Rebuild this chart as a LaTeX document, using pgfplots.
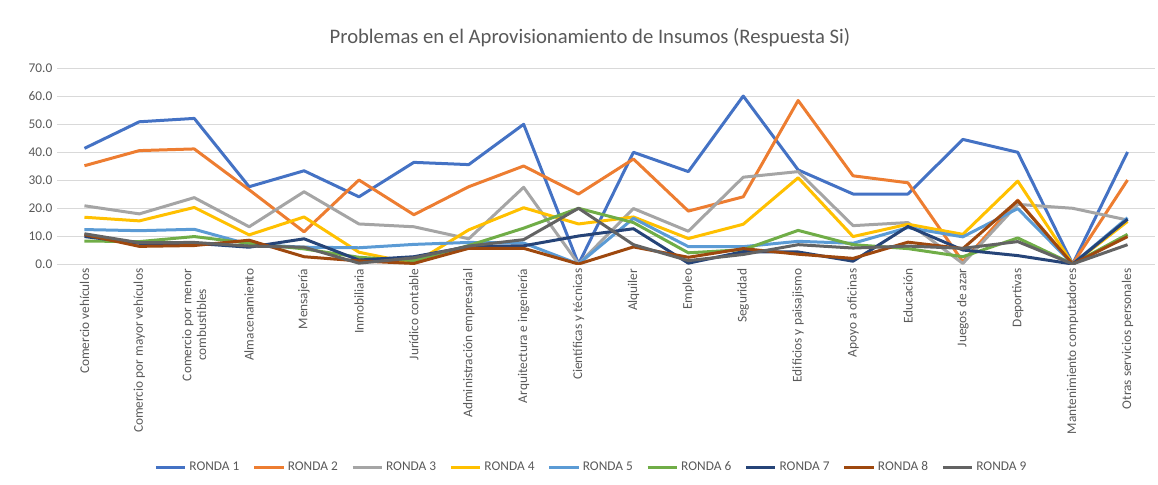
\documentclass[border=0pt]{standalone}
\usepackage{pgfplots}
\pgfplotsset{compat=1.18}
\usepackage{fontspec}
\setmainfont{Carlito}
\definecolor{r1}{HTML}{4472C4}
\definecolor{r2}{HTML}{ED7D31}
\definecolor{r3}{HTML}{A5A5A5}
\definecolor{r4}{HTML}{FFC000}
\definecolor{r5}{HTML}{5B9BD5}
\definecolor{r6}{HTML}{70AD47}
\definecolor{r7}{HTML}{264478}
\definecolor{r8}{HTML}{9E480E}
\definecolor{r9}{HTML}{636363}
\definecolor{txt}{HTML}{595959}
\definecolor{grd}{HTML}{D9D9D9}
\begin{document}
\begin{tikzpicture}
\path[use as bounding box] (0pt,0pt) rectangle (868.5pt,-363.75pt);
\node[font=\fontsize{15.5}{18}\selectfont, text=txt] at (442.5pt,-28.5pt) {Problemas en el Aprovisionamiento de Insumos (Respuesta Si)};
\begin{axis}[
  at={(42.75pt,-198pt)}, anchor=south west,
  scale only axis, width=823.5pt, height=147pt,
  xmin=0.5, xmax=20.5, ymin=0, ymax=70,
  ytick={0,10,...,70},
  xtick={1,...,20},
  xticklabels={Comercio vehículos,Comercio  por mayor vehículos,{Comercio  por menor\\combustibles},Almacenamiento,Mensajería,Inmobiliaria,Jurídico contable,Administración empresarial,Arquitectura e ingeniería,Científicas y técnicas,Alquiler,Empleo,Seguridad,Edificios y paisajismo,Apoyo a oficinas,Educación,Juegos de azar,Deportivas,Mantenimiento computadores,Otras servicios personales},
  x tick label style={rotate=90, anchor=east, align=center, font=\fontsize{10}{11}\selectfont, text=txt},
  y tick label style={font=\fontsize{10}{12}\selectfont, text=txt, /pgf/number format/fixed, /pgf/number format/fixed zerofill, /pgf/number format/precision=1},
  /pgf/number format/assume math mode=true,
  ymajorgrids, major grid style={grd, line width=0.75pt},
  axis line style={draw=none},
  major tick length=0pt,
  no markers,
  every axis plot/.append style={line width=2.25pt, line join=round},
  legend columns=9,
  legend style={draw=none, fill=none, font=\fontsize{10}{12}\selectfont, text=txt, at={(0.487,-1.036)}, anchor=center, /tikz/every even column/.append style={column sep=8pt}},
  legend image code/.code={\draw[#1, line width=2.25pt] (0pt,0pt) -- (22pt,0pt);},
]
\addplot[r1] coordinates {(1,41.3)(2,50.8)(3,52.0)(4,27.6)(5,33.3)(6,24.0)(7,36.3)(8,35.5)(9,49.9)(10,0)(11,39.9)(12,33.0)(13,60.0)(14,33.6)(15,25.0)(16,25.0)(17,44.5)(18,39.9)(19,0)(20,40.0)};
\addplot[r2] coordinates {(1,35.1)(2,40.5)(3,41.1)(4,26.5)(5,11.5)(6,30.0)(7,17.6)(8,27.6)(9,35.0)(10,25.0)(11,37.5)(12,18.9)(13,24.0)(14,58.4)(15,31.5)(16,29.0)(17,0.8)(18,22.8)(19,0)(20,30.0)};
\addplot[r3] coordinates {(1,20.8)(2,17.9)(3,23.7)(4,13.3)(5,25.8)(6,14.3)(7,13.3)(8,9.0)(9,27.4)(10,0)(11,19.8)(12,11.7)(13,31.0)(14,33.0)(15,13.7)(16,14.8)(17,0.2)(18,21.3)(19,19.9)(20,15.7)};
\addplot[r4] coordinates {(1,16.7)(2,15.4)(3,20.2)(4,10.4)(5,16.8)(6,4.2)(7,0.2)(8,12.2)(9,20.1)(10,14.3)(11,16.8)(12,9.1)(13,14.2)(14,30.8)(15,9.8)(16,14.2)(17,10.6)(18,29.6)(19,0)(20,15.2)};
\addplot[r5] coordinates {(1,12.3)(2,11.9)(3,12.4)(4,7.0)(5,6.0)(6,5.8)(7,7.0)(8,7.7)(9,7.5)(10,0)(11,16.3)(12,6.2)(13,6.2)(14,8.1)(15,7.4)(16,13.0)(17,9.7)(18,19.8)(19,0)(20,16.5)};
\addplot[r6] coordinates {(1,8.2)(2,8.0)(3,9.8)(4,7.4)(5,5.4)(6,2.4)(7,1.2)(8,6.6)(9,12.8)(10,19.9)(11,14.8)(12,4.0)(13,5.1)(14,12.0)(15,6.9)(16,5.5)(17,2.6)(18,9.3)(19,0)(20,10.6)};
\addplot[r7] coordinates {(1,9.8)(2,7.4)(3,7.4)(4,6.0)(5,9.0)(6,1.4)(7,2.6)(8,6.2)(9,6.5)(10,10.0)(11,12.6)(12,0.3)(13,4.4)(14,4.3)(15,1.0)(16,13.4)(17,5.0)(18,3.0)(19,0)(20,16.0)};
\addplot[r8] coordinates {(1,10.5)(2,6.3)(3,6.6)(4,8.5)(5,2.6)(6,1.1)(7,0.2)(8,5.6)(9,5.6)(10,0)(11,6.1)(12,2.4)(13,5.5)(14,3.5)(15,2.0)(16,7.8)(17,5.5)(18,22.6)(19,0)(20,9.8)};
\addplot[r9] coordinates {(1,10.8)(2,7.6)(3,7.7)(4,6.4)(5,6.0)(6,0.3)(7,2.2)(8,6.4)(9,8.7)(10,19.9)(11,6.9)(12,1.2)(13,3.4)(14,6.9)(15,5.7)(16,6.4)(17,5.6)(18,8.0)(19,0)(20,6.9)};
\legend{RONDA 1,RONDA 2,RONDA 3,RONDA 4,RONDA 5,RONDA 6,RONDA 7,RONDA 8,RONDA 9}
\end{axis}
\end{tikzpicture}
\end{document}
